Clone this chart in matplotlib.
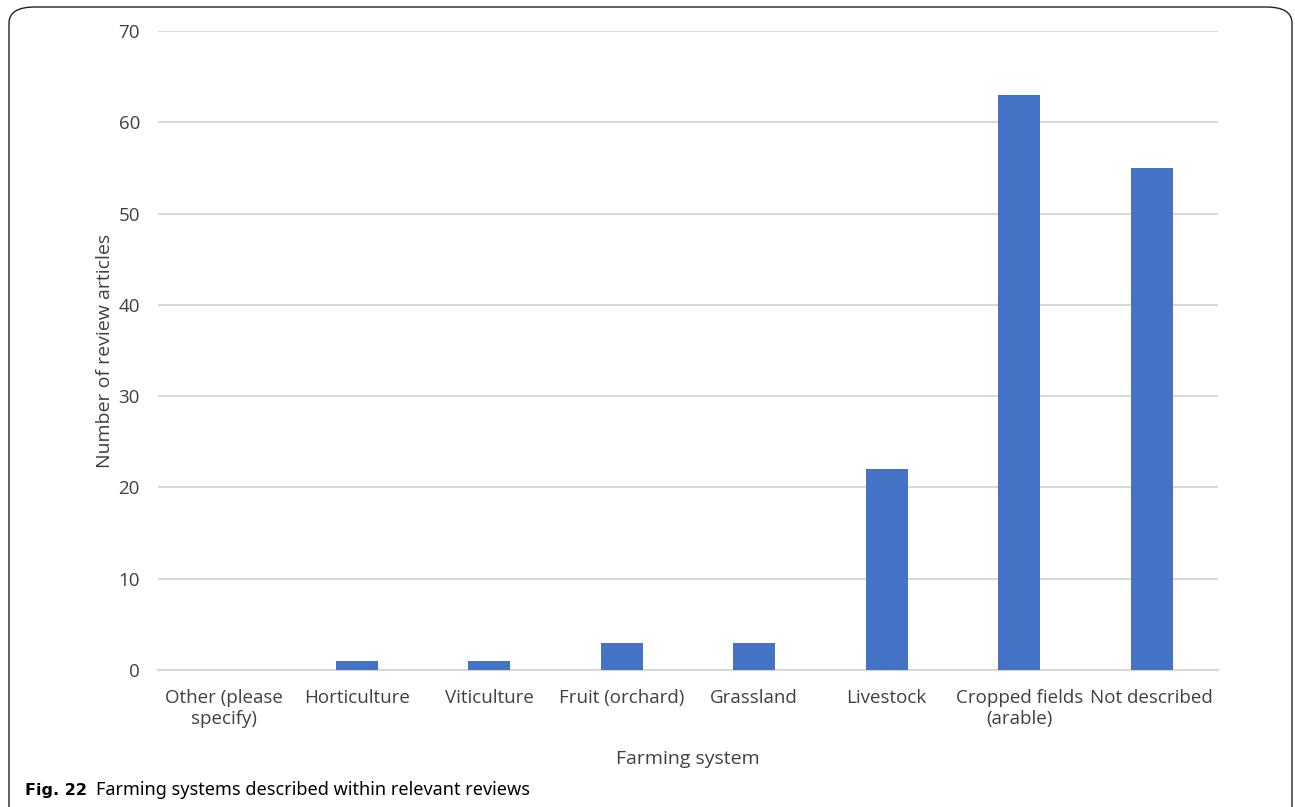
import numpy as np
import matplotlib.pyplot as plt
from matplotlib.patches import FancyBboxPatch

categories = ['Other (please\nspecify)', 'Horticulture', 'Viticulture', 'Fruit (orchard)',
              'Grassland', 'Livestock', 'Cropped fields\n(arable)', 'Not described']
counts = [0, 1, 1, 3, 3, 22, 63, 55]
yticks = [0, 10, 20, 30, 40, 50, 60, 70]

plt.rcParams['font.family'] = ['Open Sans', 'DejaVu Sans']

fig = plt.figure(figsize=(12.95, 8.07), dpi=100)
ax = fig.add_axes([0.122, 0.1698, 0.8185, 0.7918])

x = np.arange(len(categories))
ax.bar(x, counts, width=0.32, color='#4472C4', zorder=3)

ax.set_xlim(-0.5, len(categories) - 0.5)
ax.set_ylim(0, 70)
ax.set_yticks(yticks)
ax.set_xticks(x)
ax.set_xticklabels(categories, fontsize=13.5, color='#404040', linespacing=1.2)
ax.tick_params(axis='y', labelsize=13.5, labelcolor='#404040', length=0, pad=13)
ax.tick_params(axis='x', length=0, pad=14)
ax.grid(axis='y', color='#D9D9D9', linewidth=1.5, zorder=0)
for s in ['top', 'right', 'left']:
    ax.spines[s].set_visible(False)
ax.spines['bottom'].set_color('#D9D9D9')
ax.spines['bottom'].set_linewidth(1.5)

ax.set_ylabel('Number of review articles', fontsize=14, color='#404040', labelpad=3)
ax.set_xlabel('Farming system', fontsize=14, color='#404040', labelpad=16)

# frame round the figure, open at the bottom
box = FancyBboxPatch((9 / 1295, -0.05), 1283 / 1295, 1.05 - 7 / 807,
                     boxstyle='round,pad=0,rounding_size=0.02',
                     transform=fig.transFigure, fill=False,
                     edgecolor='#222222', linewidth=1.0)
fig.patches.append(box)

fig.text(25 / 1295, 1 - 790 / 807, 'Fig. 22', fontsize=11.5, fontweight='bold',
         va='center', ha='left', family=['DejaVu Sans'])
fig.text(96 / 1295, 1 - 790 / 807, 'Farming systems described within relevant reviews',
         fontsize=13, va='center', ha='left', family=['Noto Sans', 'DejaVu Sans'])

fig.savefig('out.png', dpi=100)
